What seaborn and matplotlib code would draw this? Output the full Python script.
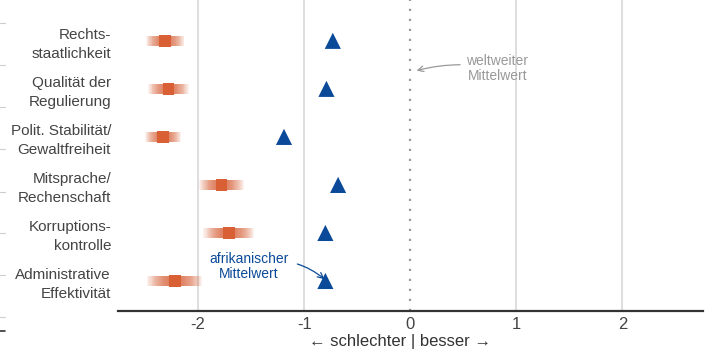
import matplotlib
matplotlib.use("Agg")
import matplotlib.pyplot as plt
import matplotlib.lines as mlines
import numpy as np
import pandas as pd
import seaborn as sns

categories = ["Rechts-\nstaatlichkeit", "Qualität der\nRegulierung", "Polit. Stabilität/\nGewaltfreiheit",
              "Mitsprache/\nRechenschaft", "Korruptions-\nkontrolle", "Administrative\nEffektivität"]
country_values = [-2.31, -2.28, -2.33, -1.78, -1.71, -2.22]
country_error = [0.18, 0.19, 0.17, 0.21, 0.24, 0.26]
africa_values = [-0.73, -0.79, -1.19, -0.68, -0.80, -0.80]
world_mean = 0.0
x_ticks = [-2, -1, 0, 1, 2]

ORANGE = "#d95f35"
BLUE = "#0b4a98"

sns.set_theme(style="white")
plt.rcParams['font.family'] = ['Liberation Sans', 'DejaVu Sans']

df = pd.DataFrame({"cat": categories, "country": country_values, "err": country_error,
                   "africa": africa_values})

fig = plt.figure(figsize=(7.11, 3.51), dpi=100)
ax = fig.add_axes([118/711, 40/351, (703-118)/711, 311/351])

# grid
for t in x_ticks:
    if t == 0:
        continue
    ax.axvline(t, color="#d4d4d4", lw=1.1, zorder=0)
ax.axvline(world_mean, color="#9a9a9a", lw=1.6, ls=(0, (1, 3.5)), zorder=0)

# gradient bands for country uncertainty
ypos = np.arange(len(categories))
n_layers = 24
for i, (v, e) in enumerate(zip(country_values, country_error)):
    for k in range(n_layers):
        half = e * (k + 1) / n_layers
        ax.barh(ypos[i], 2 * half, left=v - half, height=0.21, color=ORANGE,
                alpha=0.07, lw=0, zorder=1)

sns.scatterplot(data=df, x="country", y="cat", marker="s", s=70, color=ORANGE,
                edgecolor="none", ax=ax, zorder=3)
sns.scatterplot(data=df, x="africa", y="cat", marker="^", s=135, color=BLUE,
                edgecolor="none", ax=ax, zorder=3)

ax.set_xlim(-2.755, 2.76)
ax.set_ylim(5.625, -0.85)
ax.set_xticks(x_ticks)
ax.set_xticklabels([str(t) for t in x_ticks], fontsize=12, color="#444444")
ax.set_yticks(ypos)
ax.set_yticklabels(categories, fontsize=11, color="#444444", linespacing=1.4)
ax.tick_params(axis="y", length=0, pad=5)
ax.tick_params(axis="x", length=0, pad=4)
ax.set_xlabel("← schlechter | besser →", fontsize=12, color="#333333")
ax.xaxis.set_label_coords((400 - 118) / 585, -0.075)
ax.set_ylabel("")
for s in ["top", "right", "left"]:
    ax.spines[s].set_visible(False)
ax.spines["bottom"].set_color("#333333")
ax.spines["bottom"].set_linewidth(1.6)

# annotations
ax.annotate("weltweiter\nMittelwert", xy=(0.06, 0.62), xytext=(0.82, 0.58),
            ha="center", va="center", fontsize=10, color="#999999", linespacing=1.1,
            arrowprops=dict(arrowstyle="->", color="#999999", lw=0.9,
                            connectionstyle="arc3,rad=0.12", shrinkA=2, shrinkB=0))
ax.annotate("afrikanischer\nMittelwert", xy=(-0.79, 5.0), xytext=(-1.52, 4.70),
            ha="center", va="center", fontsize=10, color=BLUE, linespacing=1.1,
            arrowprops=dict(arrowstyle="->", color=BLUE, lw=0.9,
                            connectionstyle="arc3,rad=-0.3", shrinkA=4, shrinkB=2))

# small edge marks of the original layout
for yy in [23, 65, 107, 149, 192, 233, 275, 317]:
    fig.add_artist(mlines.Line2D([0, 5/711], [1 - yy/351, 1 - yy/351], color="#cccccc", lw=0.8))
fig.add_artist(mlines.Line2D([0, 5/711], [1 - 331/351, 1 - 331/351], color="#333333", lw=1.2))

fig.savefig("out.png", dpi=100)
